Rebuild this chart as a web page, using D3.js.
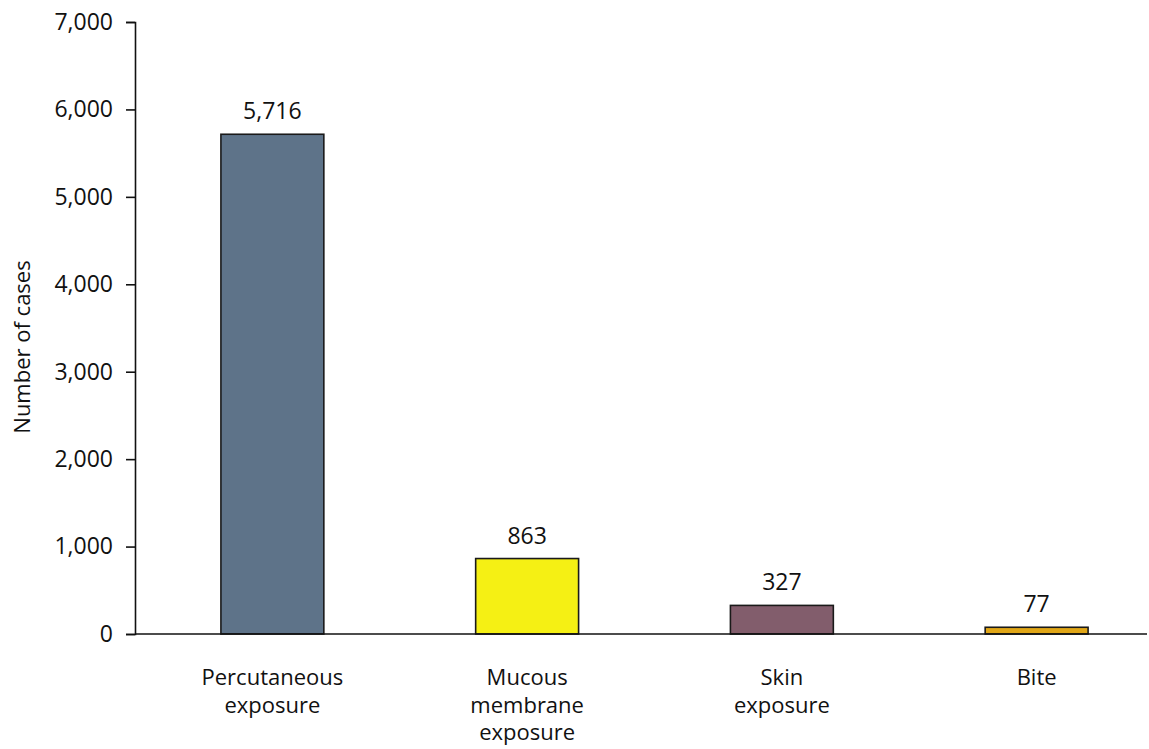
<!DOCTYPE html>
<html>
<head>
<meta charset="utf-8">
<script src="https://cdn.jsdelivr.net/npm/d3@7"></script>
<style>
  html, body { margin: 0; padding: 0; background: #fff; }
  text { font-family: "Open Sans", "Noto Sans", sans-serif; fill: #111; }
</style>
</head>
<body>
<svg id="chart" width="1149" height="749"></svg>
<script>
const categories = [
  ["Percutaneous", "exposure"],
  ["Mucous", "membrane", "exposure"],
  ["Skin", "exposure"],
  ["Bite"]
];
const values = [5716, 863, 327, 77];
const barColors = ["#5e7389", "#f5f014", "#825d6c", "#e0a617"];
const yTicks = [0, 1000, 2000, 3000, 4000, 5000, 6000, 7000];
const yTitle = "Number of cases";

const svg = d3.select("#chart");
const keys = categories.map(c => c.join(" "));

const x = d3.scaleBand()
  .domain(keys)
  .range([145, 1164])
  .paddingInner(0.596)
  .paddingOuter(0.298);

const y = d3.scaleLinear().domain([0, 7000]).range([634, 22]);

const fmt = d3.format(",");

// bars
svg.append("g").selectAll("rect")
  .data(values)
  .join("rect")
  .attr("x", (d, i) => x(keys[i]))
  .attr("y", d => y(d))
  .attr("width", x.bandwidth())
  .attr("height", d => y(0) - y(d))
  .attr("fill", (d, i) => barColors[i])
  .attr("stroke", "#1a1a1a")
  .attr("stroke-width", 1.6);

// value labels
svg.append("g").selectAll("text")
  .data(values)
  .join("text")
  .attr("x", (d, i) => x(keys[i]) + x.bandwidth() / 2)
  .attr("y", d => y(d) - 15)
  .attr("text-anchor", "middle")
  .style("font-size", "23px")
  .text(d => fmt(d));

// y axis
const yAxis = svg.append("g")
  .attr("transform", "translate(135,0)")
  .call(d3.axisLeft(y).tickValues(yTicks).tickFormat(fmt).tickSize(9).tickPadding(13));
yAxis.select(".domain").attr("stroke", "#111").attr("stroke-width", 1.6);
yAxis.selectAll(".tick line").attr("stroke", "#111").attr("stroke-width", 1.6);
yAxis.selectAll(".tick text").style("font-size", "23px").style("font-family", "'Open Sans', sans-serif").attr("fill", "#111");

// x axis line
const xAxis = svg.append("g")
  .attr("transform", "translate(0," + y(0) + ")")
  .call(d3.axisBottom(x).tickSize(0).tickFormat(""));
xAxis.select(".domain").remove();
xAxis.append("line")
  .attr("x1", 135).attr("x2", 1147)
  .attr("stroke", "#111").attr("stroke-width", 1.6);

// category labels
xAxis.selectAll(".tick").each(function(d, i) {
  const t = d3.select(this).append("text")
    .attr("text-anchor", "middle")
    .attr("y", 51)
    .style("font-size", "22px")
    .attr("fill", "#111");
  categories[i].forEach((line, j) => {
    t.append("tspan").attr("x", 0).attr("dy", j === 0 ? 0 : 27.5).text(line);
  });
});

// y title
svg.append("text")
  .attr("transform", "translate(30,347) rotate(-90)")
  .attr("text-anchor", "middle")
  .style("font-size", "22px")
  .text(yTitle);
</script>
</body>
</html>
